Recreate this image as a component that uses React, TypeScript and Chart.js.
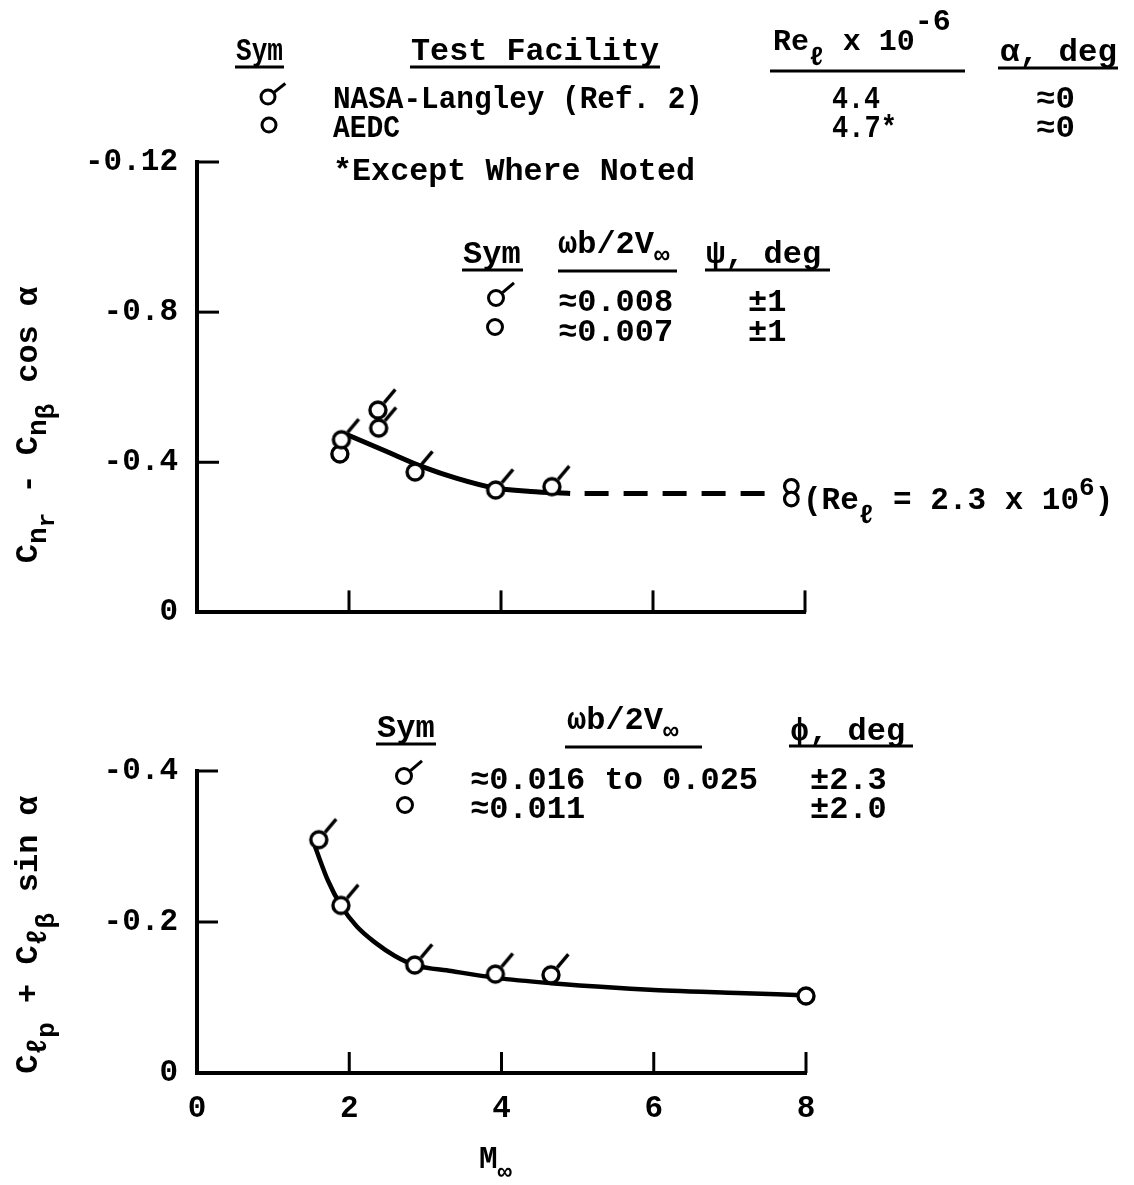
import React, { useEffect, useRef } from "react";
import { Chart, registerables } from "chart.js";
Chart.register(...registerables);

const FONT = '"Liberation Mono", "DejaVu Sans Mono", monospace';

// ---------------- data ----------------
const xTickValues = [0, 2, 4, 6, 8];
const xTickLabels = ["0", "2", "4", "6", "8"];
const xInnerTicks = [2, 4, 6, 8];

// Top panel: C_nr - C_nbeta-dot cos(alpha)
const topYTickValues = [-1.2, -0.8, -0.4, 0];
const topYTickLabels = ["-0.12", "-0.8", "-0.4", "0"];
const topYInnerTicks = [-1.2, -0.8, -0.4];

const topLangleyM = [1.9, 2.38, 2.39, 2.87, 3.93, 4.67];
const topLangleyV = [-0.46, -0.539, -0.491, -0.374, -0.326, -0.335];
const topAedcM = [1.88];
const topAedcV = [-0.422];
const topAedcLowReM = [7.82, 7.82];
const topAedcLowReV = [-0.336, -0.302];
const topFairingM = [1.97, 2.48, 2.98, 3.42, 3.9, 4.39, 4.91];
const topFairingV = [-0.474, -0.43, -0.387, -0.357, -0.332, -0.322, -0.317];
const topDashM = [5.1, 7.66];
const topDashV = [-0.317, -0.317];

// Bottom panel: C_lp + C_lbeta-dot sin(alpha)
const botYTickValues = [-0.4, -0.2, 0];
const botYTickLabels = ["-0.4", "-0.2", "0"];
const botYInnerTicks = [-0.4, -0.2];

const botLangleyM = [1.6, 1.89, 2.86, 3.92, 4.65];
const botLangleyV = [-0.309, -0.222, -0.143, -0.131, -0.13];
const botAedcM = [8.0];
const botAedcV = [-0.102];
const botFairingM = [1.55, 1.72, 1.89, 2.1, 2.35, 2.6, 2.86, 3.34, 3.93, 4.65, 5.5, 6.24, 7.1, 7.95];
const botFairingV = [-0.3, -0.255, -0.222, -0.194, -0.172, -0.155, -0.143, -0.135, -0.126, -0.119, -0.113, -0.109, -0.106, -0.103];

// ---------------- helpers ----------------
const pts = (xs: number[], ys: number[]) => xs.map((x, i) => ({ x, y: ys[i] }));

function makeFlagMarker(r: number, lw: number, angDeg: number, len: number): HTMLCanvasElement {
  const size = 72;
  const c = document.createElement("canvas");
  c.width = size;
  c.height = size;
  const ctx = c.getContext("2d")!;
  const cx = size / 2, cy = size / 2;
  ctx.strokeStyle = "#000";
  ctx.lineWidth = lw;
  ctx.fillStyle = "#fff";
  ctx.beginPath();
  ctx.arc(cx, cy, r, 0, Math.PI * 2);
  ctx.fill();
  ctx.stroke();
  const a = (-angDeg * Math.PI) / 180;
  ctx.beginPath();
  ctx.moveTo(cx + Math.cos(a) * (r + lw / 2), cy + Math.sin(a) * (r + lw / 2));
  ctx.lineTo(cx + Math.cos(a) * (r + len), cy + Math.sin(a) * (r + len));
  ctx.stroke();
  return c;
}

function tickMarks(yVals: number[], xVals: number[], len: number) {
  return {
    id: "tickMarks",
    afterDatasetsDraw(chart: any) {
      const { ctx, chartArea, scales } = chart;
      ctx.save();
      ctx.strokeStyle = "#000";
      ctx.lineWidth = 3;
      yVals.forEach((v) => {
        const y = scales.y.getPixelForValue(v);
        ctx.beginPath();
        ctx.moveTo(chartArea.left, y);
        ctx.lineTo(chartArea.left + len, y);
        ctx.stroke();
      });
      xVals.forEach((v) => {
        const x = scales.x.getPixelForValue(v);
        ctx.beginPath();
        ctx.moveTo(x, chartArea.bottom);
        ctx.lineTo(x, chartArea.bottom - len);
        ctx.stroke();
      });
      ctx.restore();
    },
  };
}

const tickFont = { family: FONT, size: 31, weight: "bold" as const };

function baseOptions(opts: {
  yMin: number; yTicks: number[]; yLabels: string[]; rightPad: number; topPad: number;
  xHeight: number; showXLabels: boolean;
}) {
  return {
    responsive: false,
    animation: false as const,
    events: [] as any[],
    layout: { padding: { left: 0, right: opts.rightPad, top: opts.topPad, bottom: 0 } },
    plugins: { legend: { display: false }, tooltip: { enabled: false }, title: { display: false } },
    scales: {
      x: {
        type: "linear" as const,
        min: 0,
        max: 8,
        afterBuildTicks: (s: any) => { s.ticks = xTickValues.map((v) => ({ value: v })); },
        ticks: {
          display: opts.showXLabels,
          callback: (_v: any, i: number) => xTickLabels[i],
          font: tickFont,
          color: "#000",
          padding: 18,
          autoSkip: false,
          maxRotation: 0,
        },
        grid: { display: false, drawTicks: false },
        border: { display: true, color: "#000", width: 4 },
        afterFit: (s: any) => { s.height = opts.xHeight; },
      },
      y: {
        type: "linear" as const,
        min: opts.yMin,
        max: 0,
        reverse: true,
        afterBuildTicks: (s: any) => { s.ticks = opts.yTicks.map((v) => ({ value: v })); },
        ticks: {
          callback: (_v: any, i: number) => opts.yLabels[i],
          font: tickFont,
          color: "#000",
          padding: 19,
          autoSkip: false,
        },
        grid: { display: false, drawTicks: false },
        border: { display: true, color: "#000", width: 4 },
        afterFit: (s: any) => { s.width = 197; },
      },
    },
  };
}

// ---------------- SVG text helpers ----------------
const txt = { fontFamily: FONT, fontWeight: 700 as const, fill: "#000", style: { whiteSpace: "pre" as const } };

function Line({ x1, x2, y }: { x1: number; x2: number; y: number }) {
  return <line x1={x1} x2={x2} y1={y} y2={y} stroke="#000" strokeWidth={3} />;
}

function FlagSym({ cx, cy, r = 7.5, ang = 40, len = 15 }: { cx: number; cy: number; r?: number; ang?: number; len?: number }) {
  const a = (-ang * Math.PI) / 180;
  return (
    <g>
      <circle cx={cx} cy={cy} r={r} fill="#fff" stroke="#000" strokeWidth={3} />
      <line
        x1={cx + Math.cos(a) * (r + 1)}
        y1={cy + Math.sin(a) * (r + 1)}
        x2={cx + Math.cos(a) * (r + len)}
        y2={cy + Math.sin(a) * (r + len)}
        stroke="#000"
        strokeWidth={3}
      />
    </g>
  );
}

function CircSym({ cx, cy, r = 7.5 }: { cx: number; cy: number; r?: number }) {
  return <circle cx={cx} cy={cy} r={r} fill="#fff" stroke="#000" strokeWidth={3} />;
}

function Overlay() {
  return (
    <svg
      width={1134}
      height={1185}
      style={{ position: "absolute", left: 0, top: 0, pointerEvents: "none" }}
    >
      {/* ---------- header table ---------- */}
      <text {...txt} x={236} y={60} fontSize={31} textLength={47} lengthAdjust="spacingAndGlyphs">Sym</text>
      <Line x1={235} x2={284} y={67} />
      <text {...txt} x={411} y={60} fontSize={31} textLength={248} lengthAdjust="spacingAndGlyphs">Test Facility</text>
      <Line x1={410} x2={660} y={67} />
      <text {...txt} x={773} y={50} fontSize={30}>
        Re<tspan fontSize={26} dy={15}>ℓ</tspan>
        <tspan dy={-15}> x 10</tspan>
        <tspan fontSize={30} dy={-20}>-6</tspan>
      </text>
      <Line x1={770} x2={965} y={71} />
      <text {...txt} x={1000} y={61} fontSize={31} textLength={117} lengthAdjust="spacingAndGlyphs">α, deg</text>
      <Line x1={998} x2={1118} y={68} />

      <FlagSym cx={268} cy={97} r={7} ang={38} len={15} />
      <text {...txt} x={333} y={108} fontSize={31} textLength={370} lengthAdjust="spacingAndGlyphs">NASA-Langley (Ref. 2)</text>
      <text {...txt} x={832} y={108} fontSize={31} textLength={48} lengthAdjust="spacingAndGlyphs">4.4</text>
      <text {...txt} x={1036} y={108} fontSize={31} textLength={39} lengthAdjust="spacingAndGlyphs">≈0</text>

      <CircSym cx={269} cy={125} r={7} />
      <text {...txt} x={333} y={137} fontSize={31} textLength={67} lengthAdjust="spacingAndGlyphs">AEDC</text>
      <text {...txt} x={832} y={137} fontSize={31} textLength={65} lengthAdjust="spacingAndGlyphs">4.7*</text>
      <text {...txt} x={1036} y={137} fontSize={31} textLength={39} lengthAdjust="spacingAndGlyphs">≈0</text>

      <text {...txt} x={333} y={180} fontSize={31} textLength={362} lengthAdjust="spacingAndGlyphs">*Except Where Noted</text>

      {/* ---------- top panel legend ---------- */}
      <text {...txt} x={463} y={263} fontSize={32}>Sym</text>
      <Line x1={462} x2={523} y={270} />
      <text {...txt} x={558} y={253} fontSize={32}>
        ωb/2V<tspan fontSize={26} dy={10}>∞</tspan>
      </text>
      <Line x1={558} x2={677} y={271} />
      <text {...txt} x={706} y={263} fontSize={32}>ψ, deg</text>
      <Line x1={705} x2={830} y={270} />

      <FlagSym cx={496} cy={298} r={7.5} ang={40} len={16} />
      <text {...txt} x={558} y={311} fontSize={32}>≈0.008</text>
      <text {...txt} x={748} y={311} fontSize={32}>±1</text>
      <CircSym cx={495} cy={327} r={7.5} />
      <text {...txt} x={558} y={341} fontSize={32}>≈0.007</text>
      <text {...txt} x={748} y={341} fontSize={32}>±1</text>

      {/* low Reynolds number note */}
      <text {...txt} x={803} y={509} fontSize={31}>
        (Re<tspan fontSize={26} dy={14}>ℓ</tspan>
        <tspan dy={-14}> = 2.3 x 10</tspan>
        <tspan fontSize={26} dy={-14}>6</tspan>
        <tspan dy={14}>)</tspan>
      </text>

      {/* top y-axis title */}
      <text {...txt} x={37} y={425} fontSize={32} textAnchor="middle" transform="rotate(-90 37 425)">
        C<tspan fontSize={28} dy={9}>n</tspan>
        <tspan fontSize={24} dy={8}>r</tspan>
        <tspan dy={-17}> - C</tspan>
        <tspan fontSize={28} dy={9}>n</tspan>
        <tspan fontSize={26} dy={8}>β</tspan>
        <tspan fontSize={26} dx={-14}>˙</tspan>
        <tspan dy={-17}> cos α</tspan>
      </text>

      {/* ---------- bottom panel legend ---------- */}
      <text {...txt} x={377} y={737} fontSize={32}>Sym</text>
      <Line x1={376} x2={436} y={744} />
      <text {...txt} x={567} y={729} fontSize={32}>
        ωb/2V<tspan fontSize={26} dy={10}>∞</tspan>
      </text>
      <Line x1={565} x2={702} y={747} />
      <text {...txt} x={790} y={740} fontSize={32}>ϕ, deg</text>
      <Line x1={789} x2={913} y={746} />

      <FlagSym cx={404} cy={776} r={7.5} ang={40} len={16} />
      <text {...txt} x={470} y={789} fontSize={32}>≈0.016 to 0.025</text>
      <text {...txt} x={810} y={789} fontSize={32}>±2.3</text>
      <CircSym cx={405} cy={805} r={7.5} />
      <text {...txt} x={470} y={818} fontSize={32}>≈0.011</text>
      <text {...txt} x={810} y={818} fontSize={32}>±2.0</text>

      {/* bottom y-axis title */}
      <text {...txt} x={37} y={935} fontSize={32} textAnchor="middle" transform="rotate(-90 37 935)">
        C<tspan fontSize={28} dy={9}>ℓ</tspan>
        <tspan fontSize={26} dy={8}>p</tspan>
        <tspan dy={-17}> + C</tspan>
        <tspan fontSize={28} dy={9}>ℓ</tspan>
        <tspan fontSize={26} dy={8}>β</tspan>
        <tspan fontSize={26} dx={-14}>˙</tspan>
        <tspan dy={-17}> sin α</tspan>
      </text>

      {/* x-axis title */}
      <text {...txt} x={479} y={1168} fontSize={31}>
        M<tspan fontSize={24} dy={11}>∞</tspan>
      </text>
    </svg>
  );
}

export default function App() {
  const topRef = useRef<HTMLCanvasElement | null>(null);
  const botRef = useRef<HTMLCanvasElement | null>(null);

  useEffect(() => {
    const flag = makeFlagMarker(8, 3.4, 50, 19);

    const markerCommon = { showLine: false, borderColor: "#000", backgroundColor: "#fff", clip: false };

    const top = new Chart(topRef.current!, {
      type: "scatter",
      data: {
        datasets: [
          { ...markerCommon, data: pts(topLangleyM, topLangleyV), pointStyle: flag as any, pointRadius: 10 },
          { ...markerCommon, data: pts(topAedcM, topAedcV), pointStyle: "circle", pointRadius: 8, pointBorderWidth: 3.4 },
          { ...markerCommon, data: pts(topAedcLowReM, topAedcLowReV), pointStyle: "circle", pointRadius: 6.8, pointBorderWidth: 3.2 },
          {
            data: pts(topFairingM, topFairingV), showLine: true, pointRadius: 0, borderColor: "#000",
            borderWidth: 5, cubicInterpolationMode: "monotone", fill: false,
          },
          {
            data: pts(topDashM, topDashV), showLine: true, pointRadius: 0, borderColor: "#000",
            borderWidth: 5, borderDash: [24, 15], fill: false,
          },
        ],
      } as any,
      options: baseOptions({
        yMin: -1.2, yTicks: topYTickValues, yLabels: topYTickLabels,
        rightPad: 1134 - 805, topPad: 162, xHeight: 30, showXLabels: false,
      }) as any,
      plugins: [tickMarks(topYInnerTicks, xInnerTicks, 22)],
    });

    const bot = new Chart(botRef.current!, {
      type: "scatter",
      data: {
        datasets: [
          { ...markerCommon, data: pts(botLangleyM, botLangleyV), pointStyle: flag as any, pointRadius: 10 },
          { ...markerCommon, data: pts(botAedcM, botAedcV), pointStyle: "circle", pointRadius: 8, pointBorderWidth: 3.4 },
          {
            data: pts(botFairingM, botFairingV), showLine: true, pointRadius: 0, borderColor: "#000",
            borderWidth: 4.5, cubicInterpolationMode: "monotone", fill: false,
          },
        ],
      } as any,
      options: baseOptions({
        yMin: -0.4, yTicks: botYTickValues, yLabels: botYTickLabels,
        rightPad: 1134 - 806, topPad: 121, xHeight: 112, showXLabels: true,
      }) as any,
      plugins: [tickMarks(botYInnerTicks, xInnerTicks, 21)],
    });

    return () => {
      top.destroy();
      bot.destroy();
    };
  }, []);

  return (
    <div style={{ position: "absolute", left: 0, top: 0, width: 1134, height: 1185, background: "#fff", overflow: "hidden" }}>
      <canvas ref={topRef} width={1134} height={650} style={{ position: "absolute", left: 0, top: 0, width: 1134, height: 650 }} />
      <canvas ref={botRef} width={1134} height={535} style={{ position: "absolute", left: 0, top: 650, width: 1134, height: 535 }} />
      <Overlay />
    </div>
  );
}
